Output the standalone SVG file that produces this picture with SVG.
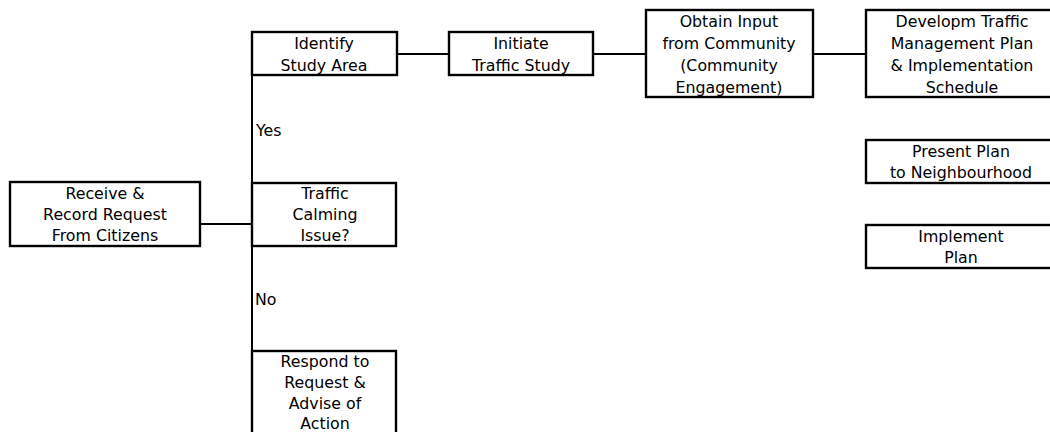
<svg xmlns="http://www.w3.org/2000/svg" width="1050" height="432" viewBox="0 0 1050 432">
<style>
.box{fill:#fff;stroke:#000;stroke-width:2.4}
.ln{fill:none;stroke:#000;stroke-width:2}
text{font-family:"DejaVu Sans","Verdana",sans-serif;font-size:15.8px;fill:#000}
.c{text-anchor:middle}
</style>
<rect width="1050" height="432" fill="#fff"/>
<g id="connectors">
<line class="ln" x1="252" y1="32" x2="252" y2="432"/>
<line class="ln" x1="200" y1="224" x2="252" y2="224"/>
<line class="ln" x1="397" y1="54" x2="449" y2="54"/>
<line class="ln" x1="593" y1="54" x2="646" y2="54"/>
<line class="ln" x1="813" y1="54" x2="866" y2="54"/>
<text x="256" y="136">Yes</text>
<text x="255" y="305">No</text>
</g>
<g id="receive">
<rect class="box" x="10" y="182" width="190" height="64"/>
<text class="c" x="105" y="199">Receive &amp;</text>
<text class="c" x="105" y="220">Record Request</text>
<text class="c" x="105" y="241">From Citizens</text>
</g>
<g id="identify">
<rect class="box" x="252" y="32" width="145" height="43"/>
<text class="c" x="324" y="49">Identify</text>
<text class="c" x="324" y="71">Study Area</text>
</g>
<g id="initiate">
<rect class="box" x="449" y="32" width="144" height="43"/>
<text class="c" x="521" y="49">Initiate</text>
<text class="c" x="521" y="71">Traffic Study</text>
</g>
<g id="obtain">
<rect class="box" x="646" y="10" width="167" height="87"/>
<text class="c" x="729" y="27">Obtain Input</text>
<text class="c" x="729" y="49">from Community</text>
<text class="c" x="729" y="71">(Community</text>
<text class="c" x="729" y="93">Engagement)</text>
</g>
<g id="develop">
<rect class="box" x="866" y="10" width="200" height="87"/>
<text class="c" x="962" y="27">Developm Traffic</text>
<text class="c" x="962" y="49">Management Plan</text>
<text class="c" x="962" y="71">&amp; Implementation</text>
<text class="c" x="962" y="93">Schedule</text>
</g>
<g id="present">
<rect class="box" x="866" y="140" width="200" height="43"/>
<text class="c" x="961" y="157">Present Plan</text>
<text class="c" x="961" y="178">to Neighbourhood</text>
</g>
<g id="implement">
<rect class="box" x="866" y="225" width="200" height="43"/>
<text class="c" x="961" y="242">Implement</text>
<text class="c" x="961" y="263">Plan</text>
</g>
<g id="calming">
<rect class="box" x="252" y="183" width="144" height="63"/>
<text class="c" x="325" y="199">Traffic</text>
<text class="c" x="325" y="220">Calming</text>
<text class="c" x="325" y="241">Issue?</text>
</g>
<g id="respond">
<rect class="box" x="252" y="351" width="144" height="95"/>
<text class="c" x="325" y="367">Respond to</text>
<text class="c" x="325" y="388">Request &amp;</text>
<text class="c" x="325" y="409">Advise of</text>
<text class="c" x="325" y="429">Action</text>
</g>
</svg>
